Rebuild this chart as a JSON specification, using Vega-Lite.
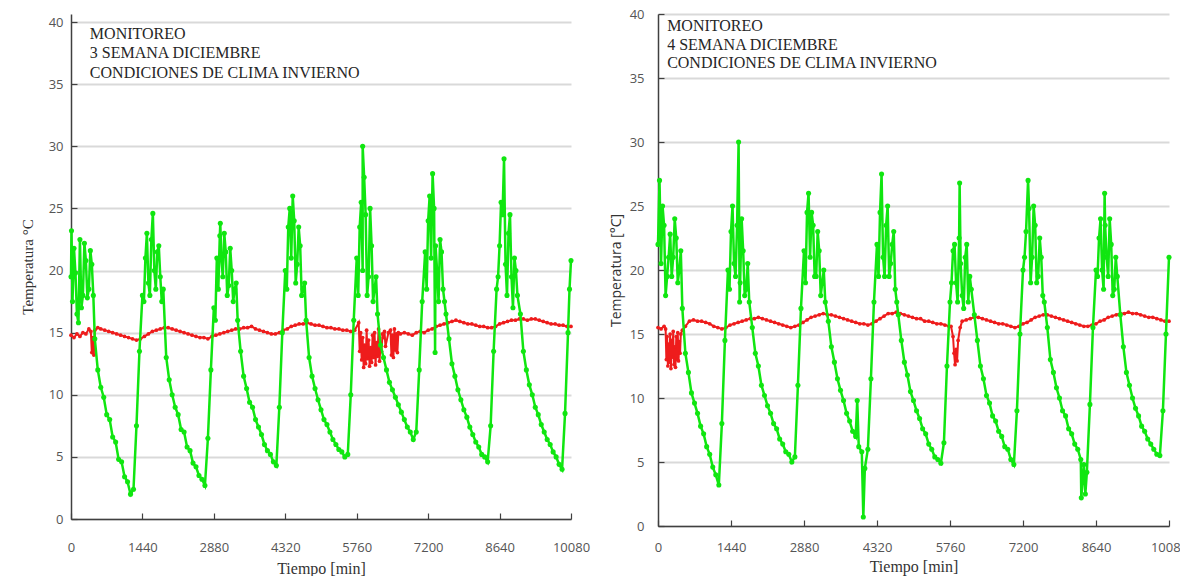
{
  "$schema": "https://vega.github.io/schema/vega-lite/v6.json",
  "background": "white",
  "padding": {"left": 20, "top": 8, "right": 0, "bottom": 0},
  "spacing": 19,
  "config": {
    "view": {"stroke": null},
    "axis": {
      "domainColor": "#404040", "domainWidth": 1.5, "tickColor": "#404040", "tickWidth": 1.2,
      "labelFont": "Open Sans", "labelFontSize": 12, "labelColor": "#555555", "labelFlush": false,
      "gridColor": "#d9d9d9", "gridWidth": 1.8,
      "titleFont": "Liberation Serif", "titleFontWeight": "normal", "titleColor": "#333333"
    }
  },
  "datasets": {
    "v3": [
      {"t":0,"v":19.5},{"t":60,"v":21.8},{"t":120,"v":16.5},{"t":180,"v":22.5},{"t":240,"v":18.0},{"t":300,"v":20.8},{"t":360,"v":18.5},{"t":420,"v":20.5},{"t":480,"v":14.5},{"t":540,"v":12.0},{"t":600,"v":10.6},{"t":660,"v":9.8},{"t":720,"v":8.4},{"t":780,"v":8.0},{"t":840,"v":6.6},{"t":900,"v":6.2},{"t":960,"v":4.8},{"t":1020,"v":4.6},{"t":1080,"v":3.4},{"t":1140,"v":3.0},{"t":1200,"v":2.0},{"t":1260,"v":2.4},{"t":1320,"v":7.5},{"t":1380,"v":13.5},{"t":1440,"v":18.0},{"t":1500,"v":21.0},{"t":1560,"v":19.0},{"t":1620,"v":22.5},{"t":1680,"v":20.0},{"t":1740,"v":21.5},{"t":1800,"v":19.5},{"t":1860,"v":18.5},{"t":1920,"v":13.0},{"t":1980,"v":11.2},{"t":2040,"v":10.0},{"t":2100,"v":9.0},{"t":2160,"v":8.4},{"t":2220,"v":7.2},{"t":2280,"v":7.0},{"t":2340,"v":5.8},{"t":2400,"v":5.5},{"t":2460,"v":4.5},{"t":2520,"v":4.2},{"t":2580,"v":3.5},{"t":2640,"v":3.2},{"t":2700,"v":2.7},{"t":2760,"v":6.5},{"t":2820,"v":12.0},{"t":2880,"v":17.0},{"t":2940,"v":21.0},{"t":3000,"v":22.8},{"t":3060,"v":19.5},{"t":3120,"v":21.5},{"t":3180,"v":18.8},{"t":3240,"v":20.0},{"t":3300,"v":18.5},{"t":3360,"v":16.0},{"t":3420,"v":13.5},{"t":3480,"v":11.5},{"t":3540,"v":10.5},{"t":3600,"v":9.4},{"t":3660,"v":9.0},{"t":3720,"v":8.0},{"t":3780,"v":7.4},{"t":3840,"v":6.8},{"t":3900,"v":6.0},{"t":3960,"v":5.5},{"t":4020,"v":5.2},{"t":4080,"v":4.6},{"t":4140,"v":4.3},{"t":4200,"v":9.0},{"t":4260,"v":15.0},{"t":4320,"v":20.0},{"t":4380,"v":23.5},{"t":4440,"v":21.0},{"t":4500,"v":24.0},{"t":4560,"v":20.5},{"t":4620,"v":22.0},{"t":4680,"v":18.5},{"t":4740,"v":16.0},{"t":4800,"v":13.0},{"t":4860,"v":11.5},{"t":4920,"v":10.5},{"t":4980,"v":9.6},{"t":5040,"v":8.8},{"t":5100,"v":8.0},{"t":5160,"v":7.6},{"t":5220,"v":7.0},{"t":5280,"v":6.4},{"t":5340,"v":6.0},{"t":5400,"v":5.6},{"t":5460,"v":5.4},{"t":5520,"v":5.0},{"t":5580,"v":5.2},{"t":5640,"v":10.0},{"t":5700,"v":16.0},{"t":5760,"v":21.0},{"t":5820,"v":23.5},{"t":5880,"v":20.0},{"t":5940,"v":24.5},{"t":6000,"v":19.5},{"t":6060,"v":22.0},{"t":6120,"v":18.5},{"t":6180,"v":16.5},{"t":6240,"v":14.0},{"t":6300,"v":13.0},{"t":6360,"v":12.0},{"t":6420,"v":11.0},{"t":6480,"v":10.4},{"t":6540,"v":9.8},{"t":6600,"v":9.2},{"t":6660,"v":8.6},{"t":6720,"v":8.0},{"t":6780,"v":7.4},{"t":6840,"v":7.0},{"t":6900,"v":6.4},{"t":6960,"v":7.0},{"t":7020,"v":12.0},{"t":7080,"v":17.5},{"t":7140,"v":21.5},{"t":7200,"v":24.0},{"t":7260,"v":21.0},{"t":7320,"v":25.0},{"t":7380,"v":20.0},{"t":7440,"v":22.5},{"t":7500,"v":18.5},{"t":7560,"v":16.5},{"t":7620,"v":14.5},{"t":7680,"v":12.5},{"t":7740,"v":11.5},{"t":7800,"v":10.4},{"t":7860,"v":9.6},{"t":7920,"v":8.8},{"t":7980,"v":8.2},{"t":8040,"v":7.4},{"t":8100,"v":6.8},{"t":8160,"v":6.2},{"t":8220,"v":5.8},{"t":8280,"v":5.2},{"t":8340,"v":5.0},{"t":8400,"v":4.6},{"t":8460,"v":7.5},{"t":8520,"v":13.5},{"t":8580,"v":18.5},{"t":8640,"v":22.0},{"t":8700,"v":24.5},{"t":8760,"v":20.5},{"t":8820,"v":23.0},{"t":8880,"v":19.5},{"t":8940,"v":21.0},{"t":9000,"v":18.0},{"t":9060,"v":16.5},{"t":9120,"v":13.5},{"t":9180,"v":12.0},{"t":9240,"v":10.8},{"t":9300,"v":10.0},{"t":9360,"v":9.0},{"t":9420,"v":8.4},{"t":9480,"v":7.6},{"t":9540,"v":7.0},{"t":9600,"v":6.4},{"t":9660,"v":6.0},{"t":9720,"v":5.4},{"t":9780,"v":5.0},{"t":9840,"v":4.4},{"t":9900,"v":4.0},{"t":9960,"v":8.5},{"t":10020,"v":15.0},{"t":10080,"v":20.8},
      {"t":10,"v":23.2},{"t":150,"v":15.8},{"t":1650,"v":24.6},{"t":3010,"v":23.8},{"t":4470,"v":26.0},{"t":5880,"v":30.0},{"t":5910,"v":27.5},{"t":7290,"v":27.8},{"t":7340,"v":13.4},{"t":8730,"v":29.0},
      {"t":30,"v":17.5},{"t":90,"v":19.8},{"t":210,"v":17.0},{"t":270,"v":22.2},{"t":330,"v":17.8},{"t":390,"v":21.6},{"t":450,"v":18.0},
      {"t":1470,"v":17.5},{"t":1530,"v":23.0},{"t":1590,"v":18.0},{"t":1710,"v":18.5},{"t":1770,"v":22.0},{"t":1830,"v":17.5},
      {"t":2910,"v":16.0},{"t":2970,"v":18.5},{"t":3030,"v":21.0},{"t":3090,"v":23.0},{"t":3150,"v":18.0},{"t":3210,"v":21.8},{"t":3270,"v":17.5},{"t":3330,"v":19.0},
      {"t":4350,"v":18.5},{"t":4410,"v":25.0},{"t":4530,"v":19.0},{"t":4590,"v":23.5},{"t":4650,"v":18.0},{"t":4710,"v":19.0},
      {"t":5790,"v":18.0},{"t":5850,"v":25.5},{"t":5970,"v":18.0},{"t":6030,"v":25.0},{"t":6090,"v":17.5},{"t":6150,"v":19.5},
      {"t":7170,"v":18.5},{"t":7230,"v":26.0},{"t":7350,"v":22.0},{"t":7410,"v":17.5},{"t":7470,"v":21.5},{"t":7530,"v":17.5},
      {"t":8610,"v":19.5},{"t":8670,"v":25.5},{"t":8790,"v":18.0},{"t":8850,"v":24.5},{"t":8910,"v":17.0},{"t":8970,"v":20.0},{"t":10050,"v":18.5}
    ],
    "r3": [
      {"t":0,"v":14.8},{"t":60,"v":14.6},{"t":120,"v":14.9},{"t":180,"v":14.7},{"t":240,"v":15.0},{"t":300,"v":14.9},{"t":360,"v":15.3},{"t":400,"v":15.1},{"t":420,"v":13.4},{"t":440,"v":14.6},{"t":460,"v":13.2},{"t":480,"v":15.2},{"t":540,"v":15.4},{"t":600,"v":15.3},{"t":680,"v":15.2},{"t":760,"v":15.1},{"t":840,"v":15.0},{"t":920,"v":14.9},{"t":1000,"v":14.8},{"t":1080,"v":14.7},{"t":1160,"v":14.6},{"t":1240,"v":14.5},{"t":1320,"v":14.4},{"t":1400,"v":14.5},{"t":1480,"v":14.7},{"t":1560,"v":14.9},{"t":1640,"v":15.1},{"t":1720,"v":15.2},{"t":1800,"v":15.3},{"t":1880,"v":15.4},{"t":1960,"v":15.4},{"t":2040,"v":15.3},{"t":2120,"v":15.2},{"t":2200,"v":15.1},{"t":2280,"v":15.0},{"t":2360,"v":14.9},{"t":2440,"v":14.8},{"t":2520,"v":14.7},{"t":2600,"v":14.6},{"t":2680,"v":14.6},{"t":2760,"v":14.5},{"t":2840,"v":14.7},{"t":2920,"v":14.8},{"t":3000,"v":14.9},{"t":3080,"v":15.0},{"t":3160,"v":15.1},{"t":3240,"v":15.2},{"t":3320,"v":15.3},{"t":3400,"v":15.3},{"t":3480,"v":15.4},{"t":3560,"v":15.4},{"t":3640,"v":15.5},{"t":3720,"v":15.3},{"t":3800,"v":15.2},{"t":3880,"v":15.1},{"t":3960,"v":15.0},{"t":4040,"v":14.9},{"t":4120,"v":14.9},{"t":4200,"v":15.0},{"t":4280,"v":15.2},{"t":4360,"v":15.3},{"t":4440,"v":15.5},{"t":4520,"v":15.6},{"t":4600,"v":15.7},{"t":4680,"v":15.7},{"t":4760,"v":15.8},{"t":4840,"v":15.7},{"t":4920,"v":15.6},{"t":5000,"v":15.6},{"t":5080,"v":15.5},{"t":5160,"v":15.4},{"t":5240,"v":15.4},{"t":5320,"v":15.3},{"t":5400,"v":15.3},{"t":5480,"v":15.2},{"t":5560,"v":15.2},{"t":5640,"v":15.1},{"t":5720,"v":15.2},
      {"t":5800,"v":15.8},{"t":5820,"v":13.5},{"t":5840,"v":15.0},{"t":5860,"v":12.8},{"t":5880,"v":14.6},{"t":5900,"v":12.2},{"t":5920,"v":14.0},{"t":5940,"v":12.5},{"t":5960,"v":15.2},{"t":5980,"v":12.9},{"t":6000,"v":14.4},{"t":6020,"v":12.3},{"t":6040,"v":13.8},{"t":6060,"v":12.6},{"t":6080,"v":14.8},{"t":6100,"v":13.0},{"t":6120,"v":15.0},{"t":6140,"v":12.4},{"t":6160,"v":14.2},{"t":6180,"v":13.1},{"t":6200,"v":15.3},{"t":6220,"v":12.7},{"t":6240,"v":14.0},{"t":6260,"v":13.5},{"t":6280,"v":14.9},{"t":6300,"v":14.6},{"t":6320,"v":15.1},{"t":6340,"v":13.9},{"t":6400,"v":15.0},{"t":6440,"v":15.2},{"t":6460,"v":13.2},{"t":6480,"v":14.8},{"t":6500,"v":13.0},{"t":6520,"v":15.3},{"t":6540,"v":13.6},{"t":6560,"v":14.9},{"t":6580,"v":13.4},{"t":6600,"v":15.0},
      {"t":6640,"v":14.9},{"t":6720,"v":15.0},{"t":6800,"v":14.9},{"t":6880,"v":14.8},{"t":6960,"v":15.0},{"t":7040,"v":15.1},{"t":7120,"v":15.0},{"t":7200,"v":15.2},{"t":7280,"v":15.3},{"t":7360,"v":15.5},{"t":7440,"v":15.6},{"t":7520,"v":15.7},{"t":7600,"v":15.8},{"t":7680,"v":15.9},{"t":7760,"v":16.0},{"t":7840,"v":15.9},{"t":7920,"v":15.8},{"t":8000,"v":15.7},{"t":8080,"v":15.7},{"t":8160,"v":15.6},{"t":8240,"v":15.5},{"t":8320,"v":15.5},{"t":8400,"v":15.4},{"t":8480,"v":15.4},{"t":8560,"v":15.5},{"t":8640,"v":15.7},{"t":8720,"v":15.8},{"t":8800,"v":15.9},{"t":8880,"v":16.0},{"t":8960,"v":16.0},{"t":9040,"v":16.1},{"t":9120,"v":16.1},{"t":9200,"v":16.0},{"t":9280,"v":16.1},{"t":9360,"v":16.1},{"t":9440,"v":16.0},{"t":9520,"v":15.9},{"t":9600,"v":15.8},{"t":9680,"v":15.7},{"t":9760,"v":15.7},{"t":9840,"v":15.6},{"t":9920,"v":15.6},{"t":10000,"v":15.5},{"t":10080,"v":15.5}
    ],
    "v4": [
      {"t":0,"v":22.0},{"t":60,"v":20.5},{"t":120,"v":23.5},{"t":180,"v":19.5},{"t":240,"v":22.8},{"t":300,"v":21.0},{"t":360,"v":22.5},{"t":420,"v":20.0},{"t":480,"v":17.0},{"t":540,"v":13.5},{"t":600,"v":12.0},{"t":660,"v":10.4},{"t":720,"v":9.6},{"t":780,"v":8.8},{"t":840,"v":7.8},{"t":900,"v":7.2},{"t":960,"v":6.2},{"t":1020,"v":5.6},{"t":1080,"v":4.6},{"t":1140,"v":4.0},{"t":1200,"v":3.2},{"t":1260,"v":8.0},{"t":1320,"v":14.5},{"t":1380,"v":20.0},{"t":1440,"v":23.0},{"t":1500,"v":20.5},{"t":1560,"v":23.5},{"t":1620,"v":19.0},{"t":1680,"v":21.5},{"t":1740,"v":18.5},{"t":1800,"v":17.5},{"t":1860,"v":15.5},{"t":1920,"v":13.5},{"t":1980,"v":12.5},{"t":2040,"v":11.0},{"t":2100,"v":10.2},{"t":2160,"v":9.4},{"t":2220,"v":8.8},{"t":2280,"v":8.0},{"t":2340,"v":7.6},{"t":2400,"v":6.8},{"t":2460,"v":6.4},{"t":2520,"v":5.8},{"t":2580,"v":5.6},{"t":2640,"v":5.0},{"t":2700,"v":5.4},{"t":2760,"v":11.0},{"t":2820,"v":17.0},{"t":2880,"v":21.5},{"t":2940,"v":24.5},{"t":3000,"v":21.0},{"t":3060,"v":23.5},{"t":3120,"v":19.5},{"t":3180,"v":21.5},{"t":3240,"v":19.0},{"t":3300,"v":17.5},{"t":3360,"v":16.0},{"t":3420,"v":14.0},{"t":3480,"v":12.8},{"t":3540,"v":11.5},{"t":3600,"v":10.6},{"t":3660,"v":9.8},{"t":3720,"v":8.8},{"t":3780,"v":8.2},{"t":3840,"v":7.4},{"t":3900,"v":7.0},{"t":3960,"v":6.2},{"t":4020,"v":5.8},{"t":4080,"v":4.5},{"t":4140,"v":6.0},{"t":4200,"v":11.5},{"t":4260,"v":17.5},{"t":4320,"v":22.0},{"t":4380,"v":24.5},{"t":4440,"v":21.0},{"t":4500,"v":23.5},{"t":4560,"v":19.5},{"t":4620,"v":22.0},{"t":4680,"v":18.5},{"t":4740,"v":16.5},{"t":4800,"v":14.5},{"t":4860,"v":12.8},{"t":4920,"v":11.8},{"t":4980,"v":10.5},{"t":5040,"v":9.8},{"t":5100,"v":9.0},{"t":5160,"v":8.4},{"t":5220,"v":7.6},{"t":5280,"v":7.2},{"t":5340,"v":6.4},{"t":5400,"v":6.0},{"t":5460,"v":5.4},{"t":5520,"v":5.2},{"t":5580,"v":4.9},{"t":5640,"v":6.5},{"t":5700,"v":12.5},{"t":5760,"v":17.5},{"t":5820,"v":21.5},{"t":5880,"v":19.0},{"t":5940,"v":22.5},{"t":6000,"v":18.0},{"t":6060,"v":21.0},{"t":6120,"v":17.5},{"t":6180,"v":18.5},{"t":6240,"v":16.5},{"t":6300,"v":14.5},{"t":6360,"v":12.5},{"t":6420,"v":11.5},{"t":6480,"v":10.2},{"t":6540,"v":9.6},{"t":6600,"v":8.6},{"t":6660,"v":8.2},{"t":6720,"v":7.4},{"t":6780,"v":7.0},{"t":6840,"v":6.2},{"t":6900,"v":6.0},{"t":6960,"v":5.2},{"t":7020,"v":4.8},{"t":7080,"v":9.0},{"t":7140,"v":15.0},{"t":7200,"v":20.0},{"t":7260,"v":23.0},{"t":7320,"v":24.8},{"t":7380,"v":21.0},{"t":7440,"v":23.5},{"t":7500,"v":19.5},{"t":7560,"v":21.0},{"t":7620,"v":17.5},{"t":7680,"v":15.5},{"t":7740,"v":13.0},{"t":7800,"v":12.0},{"t":7860,"v":10.8},{"t":7920,"v":10.0},{"t":7980,"v":9.0},{"t":8040,"v":8.6},{"t":8100,"v":7.6},{"t":8160,"v":7.2},{"t":8220,"v":6.4},{"t":8280,"v":6.0},{"t":8340,"v":5.2},{"t":8400,"v":4.8},{"t":8460,"v":4.2},{"t":8520,"v":9.5},{"t":8580,"v":15.5},{"t":8640,"v":20.0},{"t":8700,"v":22.5},{"t":8760,"v":20.0},{"t":8820,"v":23.5},{"t":8880,"v":19.5},{"t":8940,"v":22.0},{"t":9000,"v":18.5},{"t":9060,"v":19.5},{"t":9120,"v":16.5},{"t":9180,"v":14.0},{"t":9240,"v":12.0},{"t":9300,"v":11.0},{"t":9360,"v":10.0},{"t":9420,"v":9.2},{"t":9480,"v":8.6},{"t":9540,"v":7.8},{"t":9600,"v":7.4},{"t":9660,"v":6.8},{"t":9720,"v":6.4},{"t":9780,"v":6.0},{"t":9840,"v":5.6},{"t":9900,"v":5.5},{"t":9960,"v":9.0},{"t":10020,"v":15.0},{"t":10080,"v":21.0},
      {"t":30,"v":27.0},{"t":150,"v":18.0},{"t":1590,"v":30.0},{"t":1610,"v":17.5},{"t":2970,"v":26.0},{"t":3930,"v":9.8},{"t":4050,"v":0.7},{"t":4410,"v":27.5},{"t":5950,"v":26.8},{"t":7300,"v":27.0},{"t":8350,"v":2.2},{"t":8430,"v":2.5},{"t":8810,"v":26.0},
      {"t":90,"v":25.0},{"t":210,"v":21.0},{"t":270,"v":19.5},{"t":330,"v":24.0},{"t":390,"v":19.0},{"t":450,"v":21.5},
      {"t":1410,"v":18.5},{"t":1470,"v":25.0},{"t":1530,"v":19.5},{"t":1650,"v":24.0},{"t":1710,"v":18.0},{"t":1770,"v":20.5},
      {"t":2910,"v":19.0},{"t":3030,"v":24.5},{"t":3090,"v":19.5},{"t":3150,"v":23.0},{"t":3210,"v":18.0},{"t":3270,"v":20.0},
      {"t":4350,"v":19.5},{"t":4470,"v":19.5},{"t":4530,"v":25.0},{"t":4590,"v":20.5},{"t":4650,"v":23.0},{"t":4710,"v":17.5},
      {"t":5790,"v":19.0},{"t":5850,"v":22.0},{"t":5910,"v":17.5},{"t":5970,"v":20.5},{"t":6030,"v":17.0},{"t":6090,"v":22.0},{"t":6150,"v":19.5},
      {"t":7230,"v":21.0},{"t":7350,"v":19.0},{"t":7410,"v":25.0},{"t":7470,"v":19.0},{"t":7530,"v":22.5},{"t":7590,"v":18.0},
      {"t":8670,"v":19.5},{"t":8730,"v":24.0},{"t":8790,"v":18.5},{"t":8850,"v":21.0},{"t":8910,"v":24.0},{"t":8970,"v":18.0},{"t":9030,"v":21.0}
    ],
    "r4": [
      {"t":0,"v":15.5},{"t":60,"v":15.4},{"t":120,"v":15.6},
      {"t":150,"v":15.4},{"t":165,"v":13.0},{"t":180,"v":14.8},{"t":195,"v":12.5},{"t":210,"v":14.2},{"t":225,"v":12.8},{"t":240,"v":15.0},{"t":255,"v":12.3},{"t":270,"v":14.5},{"t":285,"v":13.2},{"t":300,"v":15.2},{"t":315,"v":12.6},{"t":330,"v":14.0},{"t":345,"v":12.4},{"t":360,"v":14.8},{"t":375,"v":13.0},{"t":390,"v":15.1},{"t":405,"v":12.9},{"t":420,"v":14.4},{"t":435,"v":13.5},{"t":450,"v":15.0},{"t":480,"v":15.3},
      {"t":540,"v":15.6},{"t":620,"v":16.0},{"t":700,"v":16.1},{"t":780,"v":16.0},{"t":860,"v":16.0},{"t":940,"v":15.9},{"t":1020,"v":15.8},{"t":1100,"v":15.6},{"t":1180,"v":15.5},{"t":1260,"v":15.4},{"t":1340,"v":15.5},{"t":1420,"v":15.7},{"t":1500,"v":15.8},{"t":1580,"v":15.9},{"t":1660,"v":16.0},{"t":1740,"v":16.1},{"t":1820,"v":16.2},{"t":1900,"v":16.2},{"t":1980,"v":16.3},{"t":2060,"v":16.2},{"t":2140,"v":16.1},{"t":2220,"v":16.0},{"t":2300,"v":15.9},{"t":2380,"v":15.8},{"t":2460,"v":15.7},{"t":2540,"v":15.6},{"t":2620,"v":15.5},{"t":2700,"v":15.6},{"t":2780,"v":15.7},{"t":2860,"v":15.9},{"t":2940,"v":16.1},{"t":3020,"v":16.3},{"t":3100,"v":16.4},{"t":3180,"v":16.5},{"t":3260,"v":16.6},{"t":3340,"v":16.5},{"t":3420,"v":16.5},{"t":3500,"v":16.4},{"t":3580,"v":16.3},{"t":3660,"v":16.2},{"t":3740,"v":16.1},{"t":3820,"v":16.0},{"t":3900,"v":15.9},{"t":3980,"v":15.8},{"t":4060,"v":15.8},{"t":4140,"v":15.7},{"t":4220,"v":15.8},{"t":4300,"v":16.0},{"t":4380,"v":16.2},{"t":4460,"v":16.4},{"t":4540,"v":16.6},{"t":4620,"v":16.6},{"t":4700,"v":16.7},{"t":4780,"v":16.6},{"t":4860,"v":16.5},{"t":4940,"v":16.4},{"t":5020,"v":16.3},{"t":5100,"v":16.2},{"t":5180,"v":16.2},{"t":5260,"v":16.0},{"t":5340,"v":16.0},{"t":5420,"v":15.9},{"t":5500,"v":15.8},{"t":5580,"v":15.8},{"t":5660,"v":15.7},{"t":5740,"v":15.6},
      {"t":5780,"v":15.6},{"t":5820,"v":14.8},{"t":5840,"v":13.5},{"t":5860,"v":12.6},{"t":5880,"v":13.8},{"t":5900,"v":12.9},{"t":5920,"v":14.5},{"t":5960,"v":15.5},
      {"t":6000,"v":16.0},{"t":6080,"v":16.1},{"t":6160,"v":16.2},{"t":6240,"v":16.3},{"t":6320,"v":16.3},{"t":6400,"v":16.2},{"t":6480,"v":16.1},{"t":6560,"v":16.0},{"t":6640,"v":15.9},{"t":6720,"v":15.8},{"t":6800,"v":15.8},{"t":6880,"v":15.7},{"t":6960,"v":15.6},{"t":7040,"v":15.5},{"t":7120,"v":15.6},{"t":7200,"v":15.8},{"t":7280,"v":15.9},{"t":7360,"v":16.1},{"t":7440,"v":16.3},{"t":7520,"v":16.4},{"t":7600,"v":16.5},{"t":7680,"v":16.5},{"t":7760,"v":16.4},{"t":7840,"v":16.3},{"t":7920,"v":16.2},{"t":8000,"v":16.1},{"t":8080,"v":16.0},{"t":8160,"v":15.9},{"t":8240,"v":15.8},{"t":8320,"v":15.7},{"t":8400,"v":15.6},{"t":8480,"v":15.6},{"t":8560,"v":15.7},{"t":8640,"v":15.8},{"t":8720,"v":16.0},{"t":8800,"v":16.1},{"t":8880,"v":16.3},{"t":8960,"v":16.4},{"t":9040,"v":16.5},{"t":9120,"v":16.6},{"t":9200,"v":16.6},{"t":9280,"v":16.7},{"t":9360,"v":16.6},{"t":9440,"v":16.6},{"t":9520,"v":16.5},{"t":9600,"v":16.4},{"t":9680,"v":16.3},{"t":9760,"v":16.3},{"t":9840,"v":16.2},{"t":9920,"v":16.1},{"t":10000,"v":16.0},{"t":10080,"v":16.0}
    ],
    "txt": [{"panel": "3"}]
  },
  "hconcat": [
    {
      "width": 500,
      "height": 505,
      "layer": [
        {"data": {"name": "r3"}, "mark": {"type": "line", "color": "#ee1c1c", "strokeWidth": 2, "point": {"filled": true, "size": 14, "color": "#ee1c1c"}},
          "encoding": {
            "x": {"field": "t", "type": "quantitative", "scale": {"domain": [0, 10080], "nice": false},
              "axis": {"values": [0,1440,2880,4320,5760,7200,8640,10080], "format": "d", "grid": false, "tickSize": -6, "labelPadding": 28, "labelFontSize": 13, "title": "Tiempo [min]", "titleFontSize": 16, "titlePadding": 6}},
            "y": {"field": "v", "type": "quantitative", "scale": {"domain": [0, 40.65], "nice": false},
              "axis": {"values": [0,2.5,5,7.5,10,12.5,15,17.5,20,22.5,25,27.5,30,32.5,35,37.5,40],
                "labelExpr": "datum.value % 5 == 0 ? datum.label : ''",
                "gridOpacity": {"condition": {"test": "datum.value % 5 == 0", "value": 1}, "value": 0},
                "tickSize": {"condition": {"test": "datum.value % 5 == 0", "value": -6}, "value": -4},
                "labelPadding": 14, "labelFontSize": 13, "title": "Temperatura °C", "titleFontSize": 15, "titlePadding": 13}}
          }},
        {"data": {"name": "v3"}, "mark": {"type": "line", "color": "#10e610", "strokeWidth": 2.5, "point": {"filled": true, "size": 26, "color": "#10e610"}},
          "encoding": {"x": {"field": "t", "type": "quantitative"}, "y": {"field": "v", "type": "quantitative"}}},
        {"data": {"name": "txt"}, "mark": {"type": "text", "text": "MONITOREO", "align": "left", "baseline": "middle", "font": "Liberation Serif", "fontSize": 16, "color": "#262626"},
          "encoding": {"x": {"datum": 380}, "y": {"datum": 39.0}}},
        {"data": {"name": "txt"}, "mark": {"type": "text", "text": "3 SEMANA DICIEMBRE", "align": "left", "baseline": "middle", "font": "Liberation Serif", "fontSize": 16, "color": "#262626"},
          "encoding": {"x": {"datum": 380}, "y": {"datum": 37.5}}},
        {"data": {"name": "txt"}, "mark": {"type": "text", "text": "CONDICIONES DE CLIMA INVIERNO", "align": "left", "baseline": "middle", "font": "Liberation Serif", "fontSize": 16, "color": "#262626"},
          "encoding": {"x": {"datum": 380}, "y": {"datum": 35.9}}}
      ]
    },
    {
      "width": 511,
      "height": 512,
      "layer": [
        {"data": {"name": "r4"}, "mark": {"type": "line", "color": "#ee1c1c", "strokeWidth": 2, "point": {"filled": true, "size": 14, "color": "#ee1c1c"}},
          "encoding": {
            "x": {"field": "t", "type": "quantitative", "scale": {"domain": [0, 10080], "nice": false},
              "axis": {"values": [0,720,1440,2160,2880,3600,4320,5040,5760,6480,7200,7920,8640,9360,10080], "format": "d",
                "labelExpr": "datum.value % 1440 == 0 ? datum.label : ''",
                "tickSize": {"condition": {"test": "datum.value % 1440 == 0", "value": -6}, "value": -3},
                "grid": false, "labelPadding": 21, "labelFontSize": 13, "title": "Tiempo [min]", "titleFontSize": 16, "titlePadding": 4}},
            "y": {"field": "v", "type": "quantitative", "scale": {"domain": [0, 40], "nice": false},
              "axis": {"values": [0,2.5,5,7.5,10,12.5,15,17.5,20,22.5,25,27.5,30,32.5,35,37.5,40],
                "labelExpr": "datum.value % 5 == 0 ? datum.label : ''",
                "gridOpacity": {"condition": {"test": "datum.value % 5 == 0", "value": 1}, "value": 0},
                "tickSize": {"condition": {"test": "datum.value % 5 == 0", "value": -6}, "value": -4},
                "labelPadding": 20, "labelFontSize": 13, "title": "Temperatura [°C]", "titleFont": "Open Sans", "titleFontSize": 14, "titlePadding": 6}}
          }},
        {"data": {"name": "v4"}, "mark": {"type": "line", "color": "#10e610", "strokeWidth": 2.5, "point": {"filled": true, "size": 26, "color": "#10e610"}},
          "encoding": {"x": {"field": "t", "type": "quantitative"}, "y": {"field": "v", "type": "quantitative"}}},
        {"data": {"name": "txt"}, "mark": {"type": "text", "text": "MONITOREO", "align": "left", "baseline": "middle", "font": "Liberation Serif", "fontSize": 16, "color": "#262626"},
          "encoding": {"x": {"datum": 180}, "y": {"datum": 39.1}}},
        {"data": {"name": "txt"}, "mark": {"type": "text", "text": "4 SEMANA DICIEMBRE", "align": "left", "baseline": "middle", "font": "Liberation Serif", "fontSize": 16, "color": "#262626"},
          "encoding": {"x": {"datum": 180}, "y": {"datum": 37.6}}},
        {"data": {"name": "txt"}, "mark": {"type": "text", "text": "CONDICIONES DE CLIMA INVIERNO", "align": "left", "baseline": "middle", "font": "Liberation Serif", "fontSize": 16, "color": "#262626"},
          "encoding": {"x": {"datum": 180}, "y": {"datum": 36.2}}}
      ]
    }
  ]
}
